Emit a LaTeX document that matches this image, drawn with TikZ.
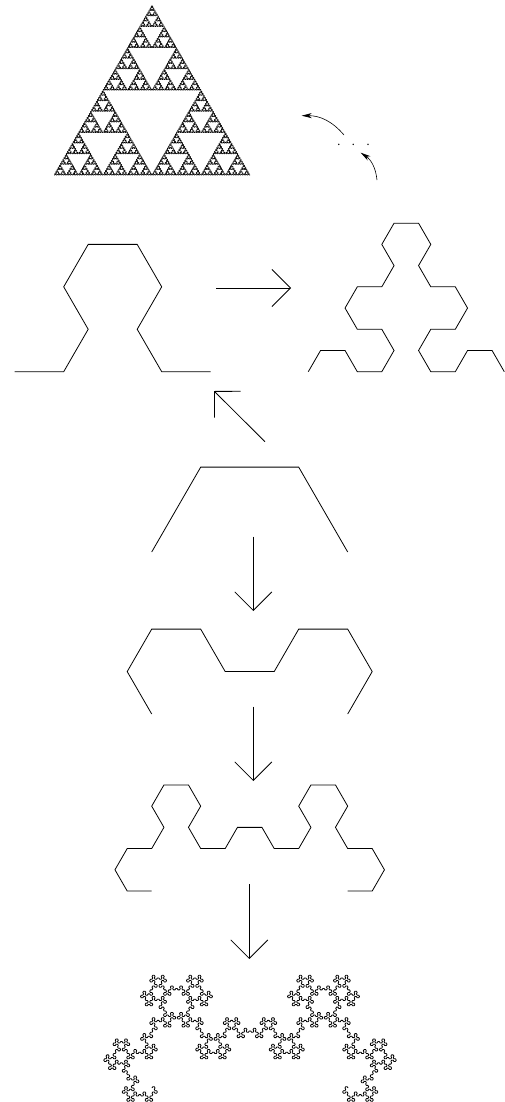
\documentclass[tikz,border=0pt]{standalone}
\usetikzlibrary{lindenmayersystems,arrows.meta}
\pgfdeclarelindenmayersystem{arrowhead}{
  \symbol{A}{\pgflsystemdrawforward}
  \symbol{B}{\pgflsystemdrawforward}
  \rule{A -> B-A-B}
  \rule{B -> A+B+A}
}
\pgfdeclarelindenmayersystem{arrowvariant}{
  \symbol{A}{\pgflsystemdrawforward}
  \symbol{B}{\pgflsystemdrawforward}
  \rule{A -> A-B-A}
  \rule{B -> B+A+B}
}
\begin{document}
\begin{tikzpicture}[x=1pt,y=-1pt,
  curve/.style={line width=0.8pt,line join=miter},
  fine/.style={line width=0.8pt,line join=round},
  bigarrow/.style={line width=0.8pt,-{Straight Barb[length=18.5pt,width=37pt]}},
  arcarrow/.style={line width=0.6pt,-{Stealth[length=10pt,width=5pt,inset=3pt]}}]
\useasboundingbox (0,0) rectangle (504,1102);

% Sierpinski triangle (limit)
\begin{scope}[shift={(54,175)}]
  \draw[fine,line width=0.6pt,l-system={arrowhead,axiom=A,order=8,step=0.765625pt,angle=60}] (0,0) lindenmayer system;
\end{scope}

% standard order 2 (top left)
\begin{scope}[shift={(14.7,371.7)}]
  \draw[curve,l-system={arrowhead,axiom=A,order=2,step=49pt,angle=60}] (0,0) lindenmayer system;
\end{scope}

% standard order 3 (top right)
\begin{scope}[shift={(308.3,371.7)},rotate=60]
  \draw[curve,l-system={arrowhead,axiom=A,order=3,step=24.5pt,angle=60}] (0,0) lindenmayer system;
\end{scope}

% vertical chain
\begin{scope}[shift={(151.7,552)},rotate=60]
  \draw[curve,l-system={arrowvariant,axiom=A,order=1,step=98pt,angle=60}] (0,0) lindenmayer system;
\end{scope}
\begin{scope}[shift={(151.7,714)},rotate=120]
  \draw[curve,l-system={arrowvariant,axiom=A,order=2,step=49pt,angle=60}] (0,0) lindenmayer system;
\end{scope}
\begin{scope}[shift={(151.7,891)},rotate=180]
  \draw[curve,l-system={arrowvariant,axiom=A,order=3,step=24.5pt,angle=60}] (0,0) lindenmayer system;
\end{scope}
\begin{scope}[shift={(152,1088)},rotate=60]
  \draw[fine,l-system={arrowvariant,axiom=A,order=7,step=1.53125pt,angle=60}] (0,0) lindenmayer system;
\end{scope}

% dots
\node[anchor=base,inner sep=0pt,font=\fontsize{14}{16}\selectfont] (dots) at (353.5,148.5) {$\cdot\kern7.4pt\cdot\kern7.4pt\cdot$};

% arrow end points
\coordinate (hS) at (216,288);   \coordinate (hE) at (291,288);
\coordinate (dS) at (265,441.7); \coordinate (dE) at (214,391);
\coordinate (v1S) at (253.3,536.7); \coordinate (v1E) at (253.3,611);
\coordinate (v2S) at (253.3,706.7); \coordinate (v2E) at (253.3,781);
\coordinate (v3S) at (249.3,884);   \coordinate (v3E) at (249.3,959);
\coordinate (c1S) at (377,180);   \coordinate (c1E) at (360.7,152.7);
\coordinate (c2S) at (344,135);   \coordinate (c2E) at (301.7,115.7);

\draw[bigarrow] (hS) -- (hE);
\draw[bigarrow] (dS) -- (dE);
\draw[bigarrow] (v1S) -- (v1E);
\draw[bigarrow] (v2S) -- (v2E);
\draw[bigarrow] (v3S) -- (v3E);
\draw[arcarrow] (c1S) to[bend right=25] (c1E);
\draw[arcarrow] (c2S) to[bend right=25] (c2E);
\end{tikzpicture}
\end{document}
